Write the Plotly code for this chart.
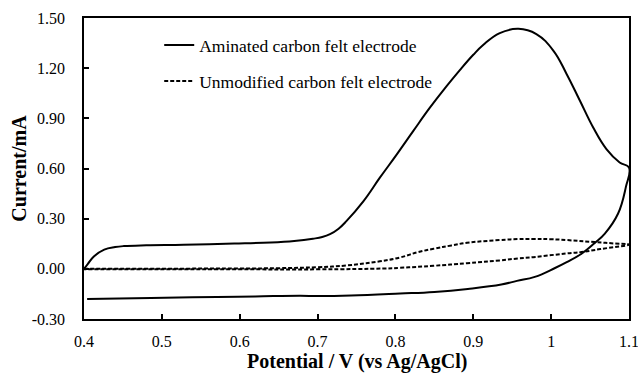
import plotly.graph_objects as go

# Aminated carbon felt electrode (forward scan then reverse scan)
amin_v = [0.400, 0.405, 0.413, 0.426, 0.440, 0.451, 0.480, 0.528, 0.593, 0.640, 0.670, 0.694,
          0.706, 0.716, 0.727, 0.737, 0.759, 0.780, 0.802, 0.823, 0.844, 0.866, 0.883, 0.900,
          0.913, 0.934, 0.958, 0.981, 1.003, 1.020, 1.037, 1.054, 1.071, 1.088, 1.100,
          1.096, 1.086, 1.069, 1.056, 1.039, 1.020, 1.005, 0.979, 0.956, 0.936, 0.893, 0.850,
          0.806, 0.743, 0.700, 0.678, 0.620, 0.571, 0.486, 0.404]
amin_i = [0.000, 0.030, 0.075, 0.115, 0.130, 0.136, 0.141, 0.144, 0.151, 0.158, 0.167, 0.180,
          0.190, 0.207, 0.240, 0.285, 0.405, 0.545, 0.686, 0.825, 0.962, 1.094, 1.190, 1.280,
          1.340, 1.410, 1.435, 1.404, 1.304, 1.164, 1.005, 0.845, 0.716, 0.636, 0.605,
          0.490, 0.331, 0.211, 0.155, 0.090, 0.040, 0.005, -0.048, -0.072, -0.094, -0.120, -0.138,
          -0.148, -0.160, -0.163, -0.161, -0.165, -0.168, -0.175, -0.181]

# Unmodified carbon felt electrode (forward scan then reverse scan)
unmod_v = [0.400, 0.500, 0.600, 0.650, 0.700, 0.737, 0.780, 0.806, 0.829, 0.849, 0.872, 0.892,
           0.934, 0.957, 0.977, 1.000, 1.020, 1.056, 1.080, 1.100,
           1.063, 1.039, 1.020, 0.977, 0.957, 0.934, 0.892, 0.849, 0.806, 0.786, 0.700, 0.600,
           0.500, 0.400]
unmod_i = [0.000, 0.001, 0.002, 0.004, 0.010, 0.020, 0.045, 0.068, 0.100, 0.120, 0.140, 0.156,
           0.172, 0.178, 0.179, 0.177, 0.172, 0.160, 0.152, 0.145,
           0.118, 0.100, 0.092, 0.070, 0.062, 0.050, 0.034, 0.018, 0.006, 0.002, -0.003, -0.003,
           -0.003, -0.003]

x_ticks = [0.4, 0.5, 0.6, 0.7, 0.8, 0.9, 1.0, 1.1]
x_tick_text = ["0.4", "0.5", "0.6", "0.7", "0.8", "0.9", "1", "1.1"]
y_ticks = [-0.30, 0.00, 0.30, 0.60, 0.90, 1.20, 1.50]
y_tick_text = ["-0.30", "0.00", "0.30", "0.60", "0.90", "1.20", "1.50"]
x_title = "Potential / V (vs Ag/AgCl)"
y_title = "Current/mA"

FONT = '"Liberation Serif", "Times New Roman", serif'

fig = go.Figure()
fig.add_trace(go.Scatter(x=amin_v, y=amin_i, mode="lines", name="Aminated carbon felt electrode",
                         line=dict(color="black", width=2, shape="spline", smoothing=1.2),
                         legend="legend", showlegend=True))
fig.add_trace(go.Scatter(x=unmod_v, y=unmod_i, mode="lines", name="Unmodified carbon felt electrode",
                         line=dict(color="black", width=2, dash="4px,2px", shape="spline", smoothing=1.2),
                         legend="legend2", showlegend=True))

axis_common = dict(showline=True, linecolor="black", linewidth=1.5, mirror=True, ticks="inside",
                   ticklen=5, tickwidth=1.5, tickcolor="black", showgrid=False, zeroline=False,
                   automargin=False, ticklabeloverflow="allow",
                   tickfont=dict(family=FONT, size=16, color="black"))

fig.update_layout(
    width=638, height=376,
    margin=dict(l=84, r=9, t=18, b=57),
    paper_bgcolor="white", plot_bgcolor="white",
    font=dict(family=FONT, color="black"),
    showlegend=True,
    xaxis=dict(range=[0.4, 1.1], tickvals=x_ticks, ticktext=x_tick_text, ticklabelstandoff=7,
               **axis_common),
    yaxis=dict(range=[-0.30, 1.50], tickvals=y_ticks, ticktext=y_tick_text, ticklabelstandoff=14,
               title=dict(text="<b>" + y_title + "</b>", font=dict(family=FONT, size=20), standoff=0),
               **axis_common),
    legend=dict(x=0.138, y=0.91, xanchor="left", yanchor="middle", bgcolor="rgba(0,0,0,0)",
                font=dict(family=FONT, size=17.5, color="black")),
    legend2=dict(x=0.138, y=0.79, xanchor="left", yanchor="middle", bgcolor="rgba(0,0,0,0)",
                 font=dict(family=FONT, size=17.5, color="black")),
    annotations=[dict(text="<b>" + x_title + "</b>", xref="paper", yref="paper", x=0.5, y=-0.186,
                      xanchor="center", yanchor="bottom", showarrow=False,
                      font=dict(family=FONT, size=20, color="black"))],
)

fig.write_html("out.html")
